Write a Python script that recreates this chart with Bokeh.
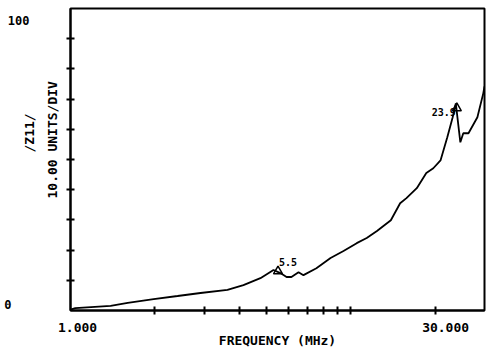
import math
from bokeh.plotting import figure
from bokeh.models import Range1d, FixedTicker, Label, LinearAxis, Title
from bokeh.embed import file_html
from bokeh.resources import INLINE

# ---- data ----
freq_mhz = [1.0, 1.04, 1.39, 1.60, 1.98, 2.41, 2.91, 3.63, 4.14, 4.76, 5.30, 5.61,
            5.90, 6.14, 6.51, 6.78, 7.54, 8.47, 9.42, 10.5, 11.4, 12.4, 13.9, 15.0,
            15.8, 17.2, 18.6, 19.7, 20.9, 22.1, 23.1, 23.7, 24.6, 25.2, 26.3, 28.3,
            29.7, 30.0]
z11 = [0.3, 0.8, 1.5, 2.5, 3.8, 4.8, 5.8, 6.8, 8.4, 10.7, 13.4, 12.4,
       11.1, 11.1, 12.7, 11.7, 14.0, 17.4, 19.7, 22.3, 24.0, 26.3, 29.9, 35.5,
       37.2, 40.5, 45.5, 47.1, 49.7, 57.4, 64.0, 68.6, 55.7, 58.7, 58.7, 64.0,
       71.9, 74.2]

marker_freq = [5.5, 23.9]
marker_val = [13.0, 67.0]
marker_text = ["5.5", "23.9"]

x_ticks = [2, 3, 4, 5, 6, 7, 8, 9, 10, 20]
y_ticks = [10, 20, 30, 40, 50, 60, 70, 80, 90]
x_start, x_stop = 1.0, 30.0
y_min, y_max = 0, 100
# where the printed start / stop and scale labels sit along the axes
x_label_pos = [1.06, 21.8]
x_labels = ["1.000", "30.000"]
y_label_pos = [96.0, 2.0]
y_labels = ["100", "0"]
x_title = "FREQUENCY (MHz)"
y_title = "/Z11/"
y_scale_title = "10.00 UNITS/DIV"

FONT = "DejaVu Sans Mono"

p = figure(width=486, height=347, x_axis_type="log",
           x_range=Range1d(x_start, x_stop), y_range=Range1d(y_min, y_max),
           output_backend="svg", toolbar_location=None,
           min_border_left=70, min_border_right=2,
           min_border_top=8, min_border_bottom=37)
p.background_fill_color = "white"
p.border_fill_color = "white"
p.outline_line_color = "black"
p.outline_line_width = 2
p.xgrid.visible = False
p.ygrid.visible = False

# bottom axis: division ticks (as minor ticks) + start/stop labels
xa = p.xaxis[0]
xa.ticker = FixedTicker(ticks=x_label_pos, minor_ticks=x_ticks)
xa.major_label_overrides = {v: t for v, t in zip(x_label_pos, x_labels)}
xa.axis_line_width = 2
xa.major_tick_in = 0
xa.major_tick_out = 0
xa.minor_tick_in = 4
xa.minor_tick_out = 4
xa.minor_tick_line_width = 2
xa.minor_tick_line_color = "black"
xa.major_label_standoff = 8
xa.major_label_text_font = FONT
xa.major_label_text_font_style = "bold"
xa.major_label_text_font_size = "13px"
xa.major_label_text_color = "black"

# x title below the axis labels
p.add_layout(Title(text=x_title, align="center", vertical_align="bottom",
                   standoff=-7, text_font=FONT, text_font_style="bold",
                   text_font_size="13px", text_color="black"), "below")

# left axis: division ticks only (no labels)
ya = p.yaxis[0]
ya.ticker = FixedTicker(ticks=[], minor_ticks=y_ticks)
ya.axis_line_width = 2
ya.major_tick_in = 0
ya.major_tick_out = 4
ya.minor_tick_in = 4
ya.minor_tick_out = 4
ya.minor_tick_line_width = 2
ya.minor_tick_line_color = "black"
ya.major_label_standoff = 0

def vtitle(text, offset, standoff):
    t = Title(text=text, align="left", vertical_align="middle", offset=offset,
              standoff=standoff, text_font=FONT, text_font_style="bold",
              text_font_size="13px", text_color="black")
    p.add_layout(t, "left")

vtitle(y_scale_title, 112, 11)
vtitle(y_title, 158, 1)

# outer left axes carrying the full-scale labels ("100" then "0", left-most)
def scale_axis(i, standoff):
    ax = LinearAxis(ticker=FixedTicker(ticks=[y_label_pos[i]], minor_ticks=[]),
                    major_label_overrides={y_label_pos[i]: y_labels[i]},
                    axis_line_color=None, major_tick_in=0, major_tick_out=0,
                    major_label_standoff=standoff, major_label_text_font=FONT,
                    major_label_text_font_style="bold",
                    major_label_text_font_size="12px",
                    major_label_text_color="black")
    p.add_layout(ax, "left")

scale_axis(0, -9)
scale_axis(1, -7)

p.line(freq_mhz, z11, line_color="black", line_width=1.8)
p.scatter(marker_freq, marker_val, marker="triangle", size=9,
          fill_color=None, line_color="black", line_width=1.5)

for f, v, t, dx, dy in zip(marker_freq, marker_val, marker_text, [10, -13], [9, -4]):
    p.add_layout(Label(x=f, y=v, x_offset=dx, y_offset=dy, text=t,
                       text_font=FONT, text_font_style="bold",
                       text_font_size="10px", text_color="black",
                       text_align="center", text_baseline="middle"))

open("out.html", "w").write(file_html(p, INLINE))
